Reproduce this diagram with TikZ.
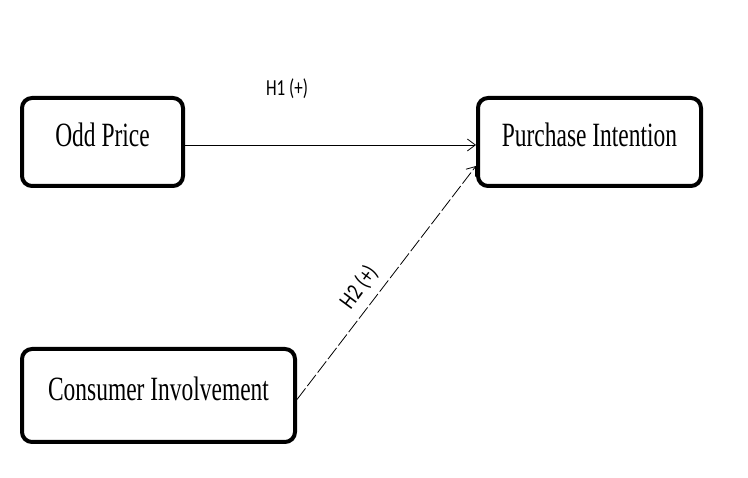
\documentclass[tikz,border=0pt]{standalone}
\usepackage{fontspec}
\usetikzlibrary{arrows.meta}
\newfontfamily\boxfont[FakeStretch=0.69]{Liberation Serif}
\newfontfamily\lblfont{Carlito}
\begin{document}
\begin{tikzpicture}[x=1pt,y=-1pt,
  varbox/.style={draw=black, line width=4pt, rounded corners=10pt, fill=white,
    inner sep=0pt, font=\boxfont\fontsize{34}{36}\selectfont, text depth=14pt},
  link/.style={line width=0.8pt, -{Straight Barb[length=8pt,width=12pt,line width=0.8pt]}},
  lbl/.style={font=\lblfont\fontsize{17}{19}\selectfont, inner sep=0pt}]
\useasboundingbox[fill=white] (0,0) rectangle (748,478);
\node[varbox, minimum width=161pt, minimum height=88pt] (op) at (102.5,142) {Odd Price};
\node[varbox, minimum width=223pt, minimum height=88pt] (pi) at (589.5,142) {Purchase Intention};
\node[varbox, minimum width=273pt, minimum height=93pt] (ci) at (158.5,395.5) {Consumer Involvement};
\draw[link] ([yshift=-3pt]op.east) -- ([yshift=-3pt]pi.west);
\node[lbl] (h1) at (287,89) {\scalebox{1}[1.35]{H1 (+)}};
\draw[link, dash pattern=on 14pt off 3pt] ([yshift=-4pt]ci.east) -- ([yshift=-24pt]pi.west);
\node[lbl, rotate=53.5] (h2) at (359,287) {\scalebox{1.12}[1.4]{H2 (+)}};
\end{tikzpicture}
\end{document}
